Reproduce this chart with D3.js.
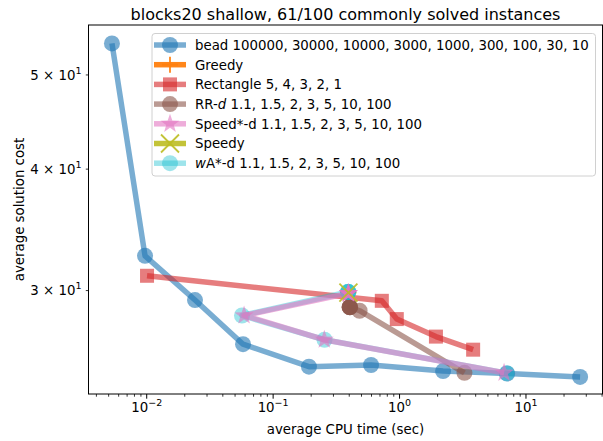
<!DOCTYPE html>
<html><head><meta charset="utf-8">
<script src="https://cdn.jsdelivr.net/npm/d3@7"></script>
<style>body{margin:0;background:#fff}svg{display:block;font-family:"DejaVu Sans",sans-serif}</style>
</head><body><svg id="c" width="603" height="441"></svg>
<script>
// ---- data (CPU time sec, solution cost) ----
const beadTime = [26.8, 7.09, 2.21, 0.595, 0.192, 0.0578, 0.0241, 0.0097, 0.00531];
const beadCost = [24.45, 24.65, 24.79, 25.15, 25.05, 26.42, 29.33, 32.57, 53.88];
const greedyTime = [0.394];
const greedyCost = [29.85];
const rectTime = [0.01006, 0.724, 0.951, 1.94, 3.82];
const rectCost = [31.07, 29.28, 28.04, 26.9, 26.08];
const rrTime = [3.26, 0.483, 0.406, 0.404, 0.402, 0.405, 0.403];
const rrCost = [24.69, 28.6, 28.84, 28.86, 28.85, 28.83, 28.84];
const speedTime = [6.71, 0.254, 0.0589, 0.3936, 0.394, 0.393, 0.3935];
const speedCost = [24.69, 26.7, 28.28, 29.8, 29.82, 29.79, 29.8];
const speedyTime = [0.394];
const speedyCost = [29.85];
const waTime = [7.05, 0.255, 0.0567, 0.392, 0.393, 0.392, 0.3925];
const waCost = [24.67, 26.7, 28.28, 29.9, 29.92, 29.89, 29.9];
const legendLabels = ["bead 100000, 30000, 10000, 3000, 1000, 300, 100, 30, 10","Greedy","Rectangle 5, 4, 3, 2, 1","RR-|d| 1.1, 1.5, 2, 3, 5, 10, 100","Speed*-d 1.1, 1.5, 2, 3, 5, 10, 100","Speedy","|w|A*-d 1.1, 1.5, 2, 3, 5, 10, 100"];
const xMajorTicks = [1e-2, 1e-1, 1, 10];
const xMajorExp = ["\u22122", "\u22121", "0", "1"];
const yTicks = [30, 40, 50];
const yTickMant = ["3", "4", "5"];
const titleText = "blocks20 shallow, 61/100 commonly solved instances";
const xLabel = "average CPU time (sec)";
const yLabel = "average solution cost";

// ---- layout ----
const L = 88.5, R = 602.5, T = 25, B = 394;
const svg = d3.select("#c");
const x = d3.scaleLog().domain([0.003464, 40.3]).range([L, R]);
const y = d3.scaleLog().domain([23.48, 56.28]).range([B, T]);
const FS = 13.33;

const colors = {blue:"#1f77b4", orange:"#ff7f0e", red:"#d62728", brown:"#8c564b", pink:"#e377c2", olive:"#bcbd22", cyan:"#17becf"};

function starPath(R0, r0) {
  const p = [];
  for (let i = 0; i < 10; i++) {
    const a = -Math.PI/2 + i*Math.PI/5;
    const rr = i%2===0 ? R0 : r0;
    p.push([rr*Math.cos(a), rr*Math.sin(a)]);
  }
  return "M" + p.map(d=>d.join(",")).join("L") + "Z";
}
function drawMarker(g, type, color, cx, cy, a) {
  if (type === "circle") g.append("circle").attr("cx",cx).attr("cy",cy).attr("r",8).attr("fill",color).attr("fill-opacity",a);
  else if (type === "square") g.append("rect").attr("x",cx-7).attr("y",cy-7).attr("width",14).attr("height",14).attr("fill",color).attr("fill-opacity",a);
  else if (type === "star") g.append("path").attr("d",starPath(10,4)).attr("transform",`translate(${cx},${cy})`).attr("fill",color).attr("fill-opacity",a);
  else if (type === "plus") g.append("path").attr("d",`M${cx-8},${cy}H${cx+8}M${cx},${cy-8}V${cy+8}`).attr("stroke",color).attr("stroke-opacity",a).attr("stroke-width",1.8).attr("fill","none");
  else if (type === "x") g.append("path").attr("d",`M${cx-9},${cy-9}L${cx+9},${cy+9}M${cx-9},${cy+9}L${cx+9},${cy-9}`).attr("stroke",color).attr("stroke-opacity",a).attr("stroke-width",1.8).attr("fill","none");
}

const series = [
  {t:beadTime, c:beadCost, color:colors.blue, m:"circle", a:0.6},
  {t:greedyTime, c:greedyCost, color:colors.orange, m:"plus", a:0.95},
  {t:rectTime, c:rectCost, color:colors.red, m:"square", a:0.6},
  {t:rrTime, c:rrCost, color:colors.brown, m:"circle", a:0.6},
  {t:waTime, c:waCost, color:colors.cyan, m:"circle", a:0.42},
  {t:speedTime, c:speedCost, color:colors.pink, m:"star", a:0.6},
  {t:speedyTime, c:speedyCost, color:colors.olive, m:"x", a:0.9},
];

const plot = svg.append("g");
const line = d3.line().x(d=>x(d[0])).y(d=>y(d[1]));
series.forEach(s => {
  const pts = s.t.map((t,i)=>[t, s.c[i]]);
  if (pts.length > 1) plot.append("path").attr("d", line(pts)).attr("fill","none").attr("stroke",s.color).attr("stroke-opacity",s.a).attr("stroke-width",5.5).attr("stroke-linejoin","round");
  const mg = plot.append("g");
  pts.forEach(p => drawMarker(mg, s.m, s.color, x(p[0]), y(p[1]), s.a));
});

// ---- axes ----
const ax = svg.append("g").attr("font-size", FS).attr("fill","#000");
ax.append("rect").attr("x",L).attr("y",T).attr("width",R-L).attr("height",B-T).attr("fill","none").attr("stroke","#000").attr("stroke-width",1);
const minor = [];
for (let e = -3; e <= 1; e++) for (let k = 2; k <= 9; k++) { const v = k*Math.pow(10,e); if (v > x.domain()[0] && v < x.domain()[1]) minor.push(v); }
ax.selectAll(".xm").data(minor).enter().append("line").attr("x1",d=>x(d)).attr("x2",d=>x(d)).attr("y1",B).attr("y2",B+2.7).attr("stroke","#000").attr("stroke-width",0.8);
ax.selectAll(".xM").data(xMajorTicks).enter().append("line").attr("x1",d=>x(d)).attr("x2",d=>x(d)).attr("y1",B).attr("y2",B+4.7).attr("stroke","#000").attr("stroke-width",1);
xMajorTicks.forEach((v,i) => {
  const t = ax.append("text").attr("x", x(v)).attr("y", 412).attr("text-anchor","middle");
  t.append("tspan").text("10");
  t.append("tspan").attr("dy",-6).attr("font-size",9.5).text(xMajorExp[i]);
});
yTicks.forEach((v,i) => {
  ax.append("line").attr("x1",L-2.7).attr("x2",L).attr("y1",y(v)).attr("y2",y(v)).attr("stroke","#000").attr("stroke-width",0.8);
  const t = ax.append("text").attr("x", L-7).attr("y", y(v)+4.8).attr("text-anchor","end");
  t.append("tspan").text(yTickMant[i] + " \u00d7 10");
  t.append("tspan").attr("dy",-6).attr("font-size",9.5).text("1");
});
ax.append("text").attr("x",(L+R)/2).attr("y",433.5).attr("text-anchor","middle").text(xLabel);
ax.append("text").attr("transform",`translate(24,${(T+B)/2}) rotate(-90)`).attr("text-anchor","middle").text(yLabel);
svg.append("text").attr("x",(L+R)/2).attr("y",20).attr("text-anchor","middle").attr("font-size",16).text(titleText);

// ---- legend ----
const lg = svg.append("g").attr("font-size", FS);
lg.append("rect").attr("x",152).attr("y",33.5).attr("width",443.5).attr("height",142.5).attr("rx",3).attr("fill","#fff").attr("fill-opacity",0.8).attr("stroke","#d0d0d0").attr("stroke-width",1);
const legendOrder = [0,1,2,3,5,6,4];
legendOrder.forEach((si, row) => {
  const s = series[si];
  const cy = 45 + row*19.7;
  lg.append("line").attr("x1",154).attr("x2",186).attr("y1",cy).attr("y2",cy).attr("stroke",s.color).attr("stroke-opacity",s.a).attr("stroke-width",5.5);
  drawMarker(lg, s.m, s.color, 170, cy, s.a);
  const parts = legendLabels[row].split("|");
  const t = lg.append("text").attr("x",195).attr("y",cy+4.8);
  parts.forEach((p,k) => { if (p.length) t.append("tspan").attr("font-style", k%2===1 ? "italic" : null).text(p); });
});
</script></body></html>
